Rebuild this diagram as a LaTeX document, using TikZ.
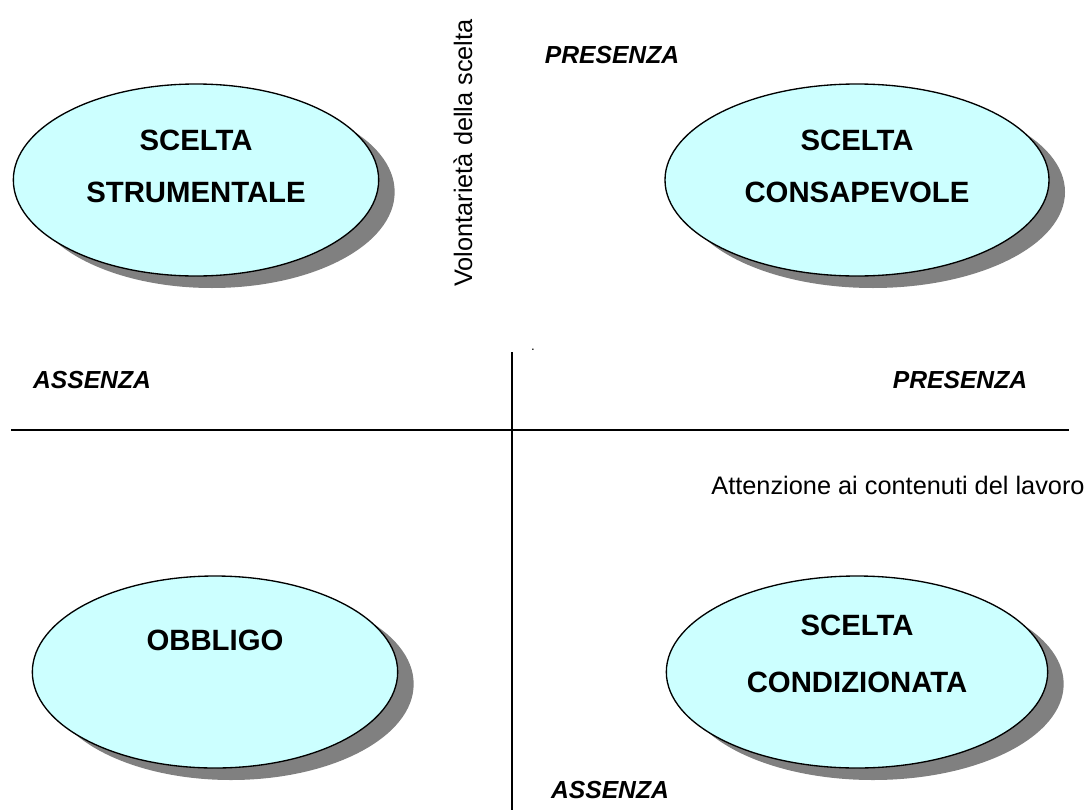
\documentclass[tikz,border=0pt]{standalone}
\usepackage{fontspec}
\setmainfont{Liberation Sans}
\usetikzlibrary{shapes.geometric,shadows}
\definecolor{paleCyan}{HTML}{CCFFFF}
\definecolor{shadowGray}{HTML}{808080}
\tikzset{
  quadrant/.style={ellipse, draw=black, line width=1pt, fill=paleCyan,
    minimum width=280pt, minimum height=144pt, inner sep=0pt,
    drop shadow={shadow xshift=12pt, shadow yshift=-9pt, fill=shadowGray, opacity=1}},
  quadtext/.style={align=center, font=\fontsize{22}{39}\selectfont\bfseries},
  polo/.style={font=\fontsize{18.5}{22}\selectfont\bfseries\itshape},
  asse/.style={font=\fontsize{19}{22}\selectfont},
  axis line/.style={line width=1.2pt}
}
\begin{document}
\begin{tikzpicture}[x=0.75pt, y=-0.75pt]
    \useasboundingbox (0, 0) rectangle (1088, 810);
    % axes
    \coordinate (hl) at (11, 430);
    \coordinate (hr) at (1069, 430);
    \coordinate (vt) at (512, 352);
    \coordinate (vb) at (512, 810);
    \draw[axis line] (hl)--(hr);
    \draw[axis line] (vt)--(vb);

    % quadrants
    \node[quadrant, minimum width=274pt,
      label={[quadtext, yshift=10.5pt]center:SCELTA\\STRUMENTALE}] (strumentale) at (196, 180) {};
    \node[quadrant, minimum width=288pt,
      label={[quadtext, yshift=10.5pt]center:SCELTA\\CONSAPEVOLE}] (consapevole) at (857, 180) {};
    \node[quadrant, minimum width=274pt,
      label={[quadtext, yshift=24pt]center:OBBLIGO}] (obbligo) at (215, 672) {};
    \node[quadrant, minimum width=286pt,
      label={[quadtext, yshift=13.5pt, font=\fontsize{22}{43}\selectfont\bfseries]center:SCELTA\\CONDIZIONATA}] (condizionata) at (857, 672) {};

    % axis labels
    \node[asse, rotate=90] (volonta) at (463, 153) {Volontarietà della scelta};
    \node[asse] (attenzione) at (898, 485) {Attenzione ai contenuti del lavoro};
    \node[polo] (presTop) at (612, 55) {PRESENZA};
    \node[polo] (assBottom) at (610, 790) {ASSENZA};
    \node[polo] (assLeft) at (92, 380) {ASSENZA};
    \node[polo] (presRight) at (960, 380) {PRESENZA};
    \node[font=\fontsize{10}{12}\selectfont] (punto) at (533, 350) {.};
\end{tikzpicture}
\end{document}
